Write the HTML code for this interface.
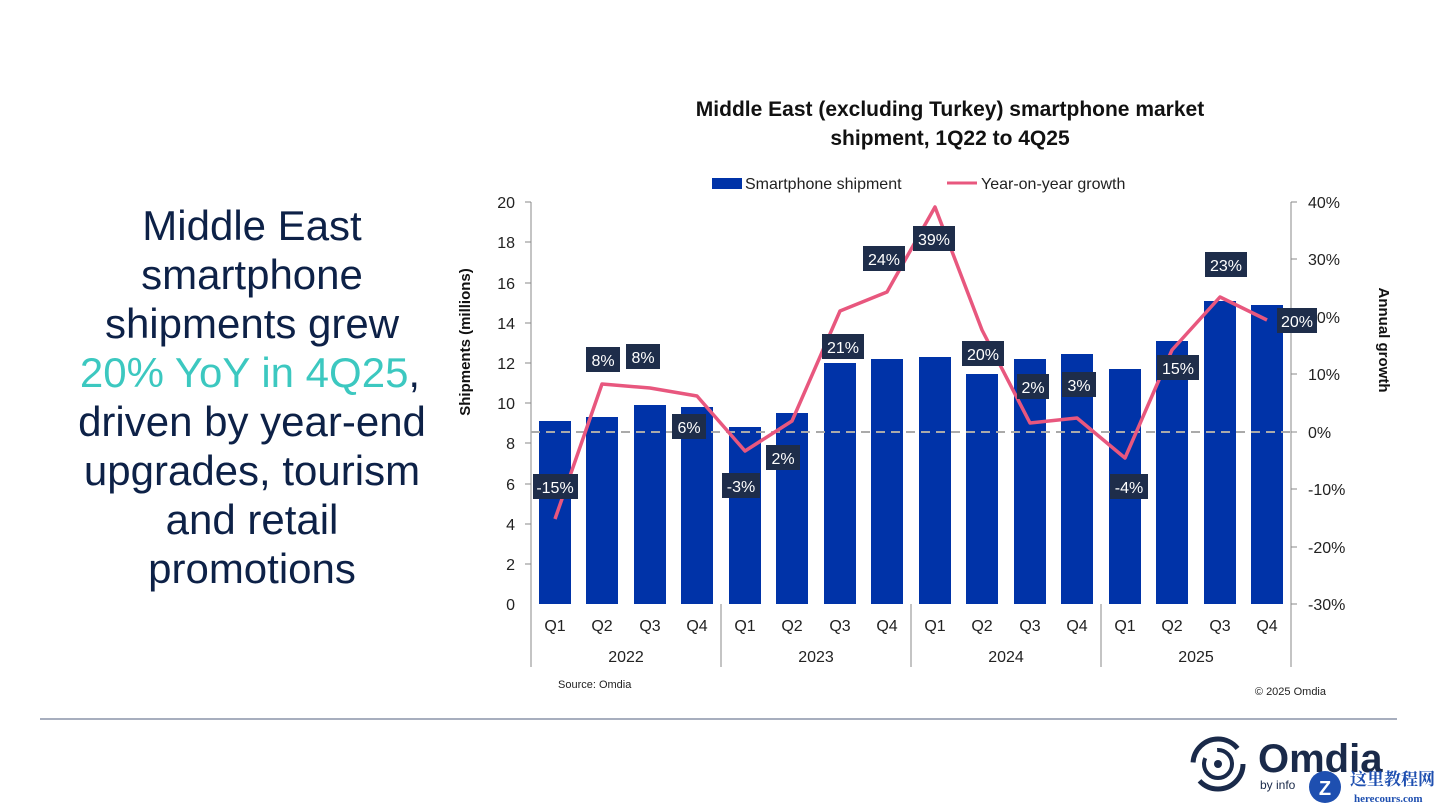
<!DOCTYPE html>
<html><head><meta charset="utf-8"><style>
html,body{margin:0;padding:0;background:#fff;width:1440px;height:810px;overflow:hidden}
</style></head><body>
<svg width="1440" height="810" xmlns="http://www.w3.org/2000/svg" font-family="Liberation Sans, sans-serif">
<rect width="1440" height="810" fill="#fff"/>
<g font-size="42" fill="#0d2147" text-anchor="middle" font-family="Liberation Sans, sans-serif">
<text x="252" y="240">Middle East</text>
<text x="252" y="289">smartphone</text>
<text x="252" y="338">shipments grew</text>
<text x="250" y="387"><tspan fill="#3cc8c0">20% YoY in 4Q25</tspan>,</text>
<text x="252" y="436">driven by year-end</text>
<text x="252" y="485">upgrades, tourism</text>
<text x="252" y="534">and retail</text>
<text x="252" y="583">promotions</text>
</g>
<g font-size="21" font-weight="bold" fill="#111" text-anchor="middle">
<text x="950" y="116">Middle East (excluding Turkey) smartphone market</text>
<text x="950" y="145">shipment, 1Q22 to 4Q25</text>
</g>
<rect x="712" y="178" width="30" height="11" fill="#0033a8"/>
<text x="745" y="189" font-size="16" fill="#222">Smartphone shipment</text>
<line x1="947" y1="183" x2="977" y2="183" stroke="#e8577e" stroke-width="3"/>
<text x="981" y="189" font-size="16" fill="#222">Year-on-year growth</text>
<line x1="531" y1="202" x2="531" y2="604" stroke="#888"/>
<line x1="1291" y1="202" x2="1291" y2="604" stroke="#888"/>
<g stroke="#888">
<line x1="525" y1="202" x2="531" y2="202"/><line x1="525" y1="242" x2="531" y2="242"/><line x1="525" y1="283" x2="531" y2="283"/><line x1="525" y1="323" x2="531" y2="323"/><line x1="525" y1="363" x2="531" y2="363"/><line x1="525" y1="403" x2="531" y2="403"/><line x1="525" y1="443" x2="531" y2="443"/><line x1="525" y1="484" x2="531" y2="484"/><line x1="525" y1="524" x2="531" y2="524"/><line x1="525" y1="564" x2="531" y2="564"/>
<line x1="1291" y1="202" x2="1297" y2="202"/><line x1="1291" y1="259" x2="1297" y2="259"/><line x1="1291" y1="317" x2="1297" y2="317"/><line x1="1291" y1="374" x2="1297" y2="374"/><line x1="1291" y1="432" x2="1297" y2="432"/><line x1="1291" y1="489" x2="1297" y2="489"/><line x1="1291" y1="547" x2="1297" y2="547"/><line x1="1291" y1="604" x2="1297" y2="604"/>
<line x1="531" y1="604" x2="531" y2="667"/><line x1="721" y1="604" x2="721" y2="667"/><line x1="911" y1="604" x2="911" y2="667"/><line x1="1101" y1="604" x2="1101" y2="667"/><line x1="1291" y1="604" x2="1291" y2="667"/>
</g>
<g font-size="16" fill="#222" text-anchor="end">
<text x="515" y="208">20</text><text x="515" y="248">18</text><text x="515" y="289">16</text><text x="515" y="329">14</text><text x="515" y="369">12</text><text x="515" y="409">10</text><text x="515" y="449">8</text><text x="515" y="490">6</text><text x="515" y="530">4</text><text x="515" y="570">2</text><text x="515" y="610">0</text>
</g>
<g font-size="16" fill="#222">
<text x="1308" y="208">40%</text><text x="1308" y="265">30%</text><text x="1308" y="323">20%</text><text x="1308" y="380">10%</text><text x="1308" y="438">0%</text><text x="1308" y="495">-10%</text><text x="1308" y="553">-20%</text><text x="1308" y="610">-30%</text>
</g>
<text transform="translate(470,342) rotate(-90)" font-size="15" font-weight="bold" fill="#111" text-anchor="middle">Shipments (millions)</text>
<text transform="translate(1379,340) rotate(90)" font-size="15" font-weight="bold" fill="#111" text-anchor="middle">Annual growth</text>
<g fill="#0033a8">
<rect x="539" y="421" width="32" height="183"/>
<rect x="586" y="417" width="32" height="187"/>
<rect x="634" y="405" width="32" height="199"/>
<rect x="681" y="407" width="32" height="197"/>
<rect x="729" y="427" width="32" height="177"/>
<rect x="776" y="413" width="32" height="191"/>
<rect x="824" y="363" width="32" height="241"/>
<rect x="871" y="359" width="32" height="245"/>
<rect x="919" y="357" width="32" height="247"/>
<rect x="966" y="374" width="32" height="230"/>
<rect x="1014" y="359" width="32" height="245"/>
<rect x="1061" y="354" width="32" height="250"/>
<rect x="1109" y="369" width="32" height="235"/>
<rect x="1156" y="341" width="32" height="263"/>
<rect x="1204" y="301" width="32" height="303"/>
<rect x="1251" y="305" width="32" height="299"/>
</g>
<line x1="531" y1="432" x2="1291" y2="432" stroke="#aaa" stroke-width="2" stroke-dasharray="9,6"/>
<polyline fill="none" stroke="#e8577e" stroke-width="3.5" stroke-linejoin="round" points="555,519 602,384 650,388 697,396 745,451 792,421 840,311 887,292 935,207 982,330 1030,423 1077,418 1125,458 1172,350 1220,297 1267,320"/>
<g font-size="16" fill="#fff" text-anchor="middle">
<rect x="533" y="474" width="45" height="25" fill="#1e2d4a"/><text x="555" y="493">-15%</text>
<rect x="586" y="347" width="34" height="25" fill="#1e2d4a"/><text x="603" y="366">8%</text>
<rect x="626" y="344" width="34" height="25" fill="#1e2d4a"/><text x="643" y="363">8%</text>
<rect x="672" y="414" width="34" height="25" fill="#1e2d4a"/><text x="689" y="433">6%</text>
<rect x="722" y="473" width="38" height="25" fill="#1e2d4a"/><text x="741" y="492">-3%</text>
<rect x="766" y="445" width="34" height="25" fill="#1e2d4a"/><text x="783" y="464">2%</text>
<rect x="822" y="334" width="42" height="25" fill="#1e2d4a"/><text x="843" y="353">21%</text>
<rect x="863" y="246" width="42" height="25" fill="#1e2d4a"/><text x="884" y="265">24%</text>
<rect x="913" y="226" width="42" height="25" fill="#1e2d4a"/><text x="934" y="245">39%</text>
<rect x="962" y="341" width="42" height="25" fill="#1e2d4a"/><text x="983" y="360">20%</text>
<rect x="1017" y="374" width="32" height="25" fill="#1e2d4a"/><text x="1033" y="393">2%</text>
<rect x="1062" y="372" width="34" height="25" fill="#1e2d4a"/><text x="1079" y="391">3%</text>
<rect x="1110" y="474" width="38" height="25" fill="#1e2d4a"/><text x="1129" y="493">-4%</text>
<rect x="1157" y="355" width="42" height="25" fill="#1e2d4a"/><text x="1178" y="374">15%</text>
<rect x="1205" y="252" width="42" height="25" fill="#1e2d4a"/><text x="1226" y="271">23%</text>
<rect x="1277" y="308" width="40" height="25" fill="#1e2d4a"/><text x="1297" y="327">20%</text>
</g>
<g font-size="16" fill="#222" text-anchor="middle">
<text x="555" y="631">Q1</text><text x="602" y="631">Q2</text><text x="650" y="631">Q3</text><text x="697" y="631">Q4</text>
<text x="745" y="631">Q1</text><text x="792" y="631">Q2</text><text x="840" y="631">Q3</text><text x="887" y="631">Q4</text>
<text x="935" y="631">Q1</text><text x="982" y="631">Q2</text><text x="1030" y="631">Q3</text><text x="1077" y="631">Q4</text>
<text x="1125" y="631">Q1</text><text x="1172" y="631">Q2</text><text x="1220" y="631">Q3</text><text x="1267" y="631">Q4</text>
<text x="626" y="662">2022</text><text x="816" y="662">2023</text><text x="1006" y="662">2024</text><text x="1196" y="662">2025</text>
</g>
<text x="558" y="688" font-size="11" fill="#222">Source: Omdia</text>
<text x="1326" y="695" font-size="11" fill="#222" text-anchor="end">© 2025 Omdia</text>
<line x1="40" y1="719" x2="1397" y2="719" stroke="#8a94a8" stroke-width="1.5"/>
<circle cx="1218" cy="764" r="25" fill="none" stroke="#1a2a4a" stroke-width="5" stroke-dasharray="60 20"/>
<circle cx="1218" cy="764" r="14" fill="none" stroke="#1a2a4a" stroke-width="4" stroke-dasharray="50 15"/>
<circle cx="1218" cy="764" r="4" fill="#1a2a4a"/>
<text x="1258" y="772" font-size="40" font-weight="bold" fill="#1a2a4a">Omdia</text>
<text x="1260" y="789" font-size="12" fill="#1a2a4a">by info</text>
<circle cx="1325" cy="787" r="16" fill="#1e4fb0"/>
<text x="1325" y="795" font-size="20" font-weight="bold" fill="#fff" text-anchor="middle">Z</text>
<text x="1350" y="785" font-size="17" font-weight="bold" fill="#1e4fb0" font-family="Noto Serif CJK SC, serif">这里教程网</text>
<text x="1354" y="802" font-size="11" font-weight="bold" fill="#1e4fb0" font-family="Liberation Serif, serif">herecours.com</text>
</svg>
</body></html>
